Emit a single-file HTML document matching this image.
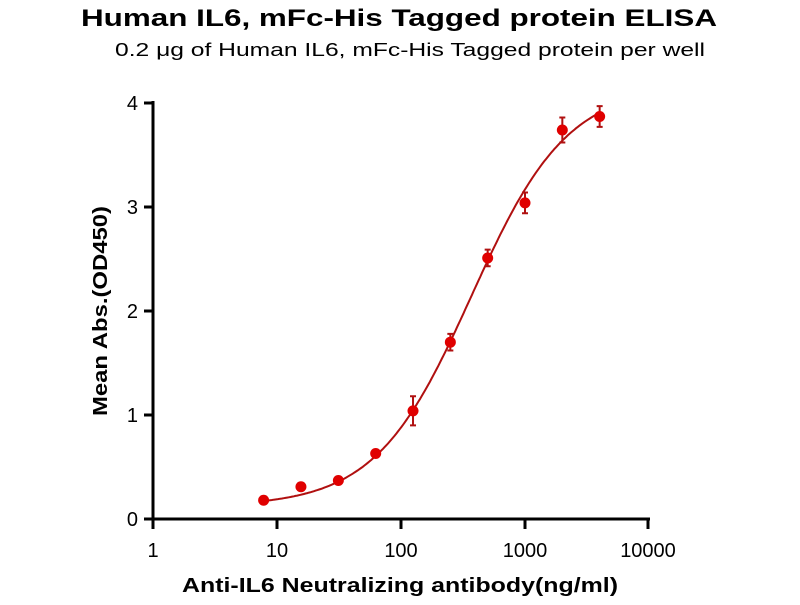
<!DOCTYPE html>
<html><head><meta charset="utf-8"><style>
body{margin:0;background:#fff;width:800px;height:600px;overflow:hidden}
text{font-family:"Liberation Sans",Arial,sans-serif}
</style></head><body>
<svg id="s" width="800" height="600" xmlns="http://www.w3.org/2000/svg">
<text x="399" y="26" text-anchor="middle" font-size="24" font-weight="bold" textLength="636" lengthAdjust="spacingAndGlyphs">Human IL6,  mFc-His Tagged protein ELISA</text>
<text x="410" y="56" text-anchor="middle" font-size="18" textLength="590" lengthAdjust="spacingAndGlyphs">0.2 μg of Human IL6, mFc-His Tagged protein per well</text>
<g stroke="#000" stroke-width="3" fill="none">
<line x1="153" y1="101" x2="153" y2="520"/>
<line x1="151" y1="519" x2="650" y2="519"/>
<line x1="144" y1="103" x2="153" y2="103"/><line x1="144" y1="207" x2="153" y2="207"/>
<line x1="144" y1="311" x2="153" y2="311"/><line x1="144" y1="415" x2="153" y2="415"/>
<line x1="144" y1="519" x2="153" y2="519"/>
<line x1="153" y1="519" x2="153" y2="529"/><line x1="277" y1="519" x2="277" y2="529"/>
<line x1="401" y1="519" x2="401" y2="529"/><line x1="525" y1="519" x2="525" y2="529"/>
<line x1="648" y1="519" x2="648" y2="529"/>
</g>
<g font-size="20" text-anchor="end">
<text x="138" y="110">4</text><text x="138" y="214">3</text><text x="138" y="318">2</text><text x="138" y="422">1</text><text x="138" y="526">0</text>
</g>
<g font-size="20" text-anchor="middle">
<text x="153" y="557">1</text><text x="277" y="557">10</text><text x="401" y="557">100</text><text x="525" y="557">1000</text><text x="648" y="557">10000</text>
</g>
<text x="400" y="592" text-anchor="middle" font-size="20" font-weight="bold" textLength="436" lengthAdjust="spacingAndGlyphs">Anti-IL6 Neutralizing antibody(ng/ml)</text>
<text transform="translate(107,311) rotate(-90)" text-anchor="middle" font-size="20" font-weight="bold" textLength="210" lengthAdjust="spacingAndGlyphs">Mean Abs.(OD450)</text>
<g id="g"></g>
</svg>
<script>
var X=c=>153+124*Math.log10(c),Y=v=>519-104*v;
var f=c=>0.12+4.05/(1+Math.pow(370/c,1.12));
var d="";for(var i=0;i<=200;i++){var c=7.8*Math.pow(4000/7.8,i/200);d+=(i?"L":"M")+X(c).toFixed(1)+","+Y(f(c)).toFixed(1);}
var h='<path d="'+d+'" stroke="#b01010" stroke-width="2" fill="none"/>';
var C=[7.8,15.6,31.25,62.5,125,250,500,1000,2000,4000],V=[0.18,0.31,0.37,0.63,1.04,1.70,2.51,3.04,3.74,3.87],E=[0.02,0.03,0.02,0.03,0.14,0.08,0.08,0.1,0.12,0.1];
for(var k=0;k<10;k++){var x=X(C[k]),y=Y(V[k]),e=E[k]*104;
if(e>6)h+='<path d="M'+x+','+(y-e)+'V'+(y+e)+'M'+(x-3)+','+(y-e)+'h6M'+(x-3)+','+(y+e)+'h6" stroke="#b01010" stroke-width="2"/>';
h+='<circle cx="'+x+'" cy="'+y+'" r="5.5" fill="#e00000"/>';}
document.getElementById("g").innerHTML=h;
</script>
</body></html>
